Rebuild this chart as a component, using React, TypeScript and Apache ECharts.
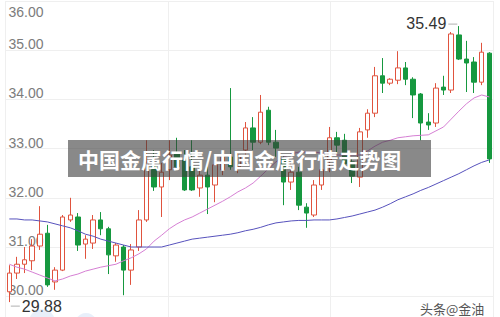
import React, { useEffect, useRef } from 'react';
import * as echarts from 'echarts';

const categories: string[] = Array.from({ length: 64 }, (_, i) => `D${i + 1}`);

const opens = [30.09,30.47,30.65,30.72,31.02,31.28,30.29,30.53,31.55,31.61,31.06,31.08,31.55,31.37,30.82,31.00,30.53,31.00,31.55,32.63,32.22,32.57,32.91,32.77,32.63,32.20,32.46,32.26,32.57,32.83,32.63,32.97,33.42,33.13,33.78,33.13,32.81,32.32,32.52,31.81,31.65,32.26,32.77,33.22,33.17,32.73,32.42,33.38,33.72,34.48,34.33,34.39,34.64,34.41,34.11,33.54,33.52,34.25,34.19,35.31,34.82,34.76,34.35,34.94];
const closes = [30.47,30.65,30.74,31.02,31.26,30.23,30.53,31.61,31.65,31.04,31.16,31.55,31.37,30.84,31.04,30.53,30.94,31.55,32.71,32.22,32.52,32.87,32.63,32.16,32.16,32.46,32.22,32.67,32.83,32.63,32.87,33.42,33.13,33.74,33.13,33.01,32.32,32.52,31.85,31.69,32.26,32.57,33.22,33.07,32.69,32.44,33.34,33.72,34.48,34.33,34.41,34.64,34.41,34.09,33.52,33.48,34.23,34.19,35.33,34.82,34.74,34.35,34.96,32.79];
const lows = [29.88,30.35,30.47,30.53,30.94,30.19,30.13,30.51,31.51,30.92,30.76,30.96,31.24,30.45,30.70,30.02,30.23,30.92,31.51,32.14,31.61,32.36,32.57,32.14,32.14,32.02,31.67,31.91,32.46,32.57,32.50,32.87,32.97,33.09,33.07,32.83,31.85,32.16,31.75,31.39,31.61,32.16,32.52,32.91,32.63,32.30,32.22,33.22,33.64,34.13,34.29,34.31,34.29,33.62,33.17,33.38,33.44,34.09,34.13,34.80,34.15,34.13,34.29,32.71];
const highs = [30.63,30.80,31.00,31.16,31.83,31.45,30.59,31.65,32.00,31.69,31.24,31.65,31.71,31.41,31.08,31.04,31.06,31.75,33.17,32.97,32.71,33.17,33.22,32.97,33.17,32.57,32.63,32.83,32.91,34.23,32.91,33.54,33.64,34.09,33.85,33.38,32.87,32.71,32.63,31.89,32.36,32.73,33.44,33.34,33.30,32.83,33.42,33.80,34.66,34.84,34.43,34.98,34.76,34.45,34.13,33.72,34.33,34.48,35.37,35.49,35.19,34.86,35.15,34.96];

const maShort = [30.65,30.59,30.55,30.49,30.43,30.37,30.31,30.35,30.41,30.45,30.51,30.55,30.59,30.62,30.65,30.72,30.78,30.86,30.96,31.12,31.24,31.37,31.47,31.55,31.61,31.69,31.77,31.85,31.93,32.02,32.12,32.20,32.30,32.44,32.59,32.73,32.83,32.89,32.93,32.93,32.93,32.91,32.89,32.87,32.87,32.87,32.87,32.95,33.05,33.13,33.17,33.22,33.24,33.26,33.27,33.28,33.36,33.44,33.60,33.76,33.91,34.03,34.09,34.05];
const maLong = [31.57,31.57,31.55,31.55,31.53,31.51,31.47,31.43,31.39,31.33,31.26,31.22,31.16,31.12,31.08,31.04,31.00,31.00,31.00,31.00,31.00,31.04,31.08,31.12,31.16,31.18,31.20,31.22,31.24,31.26,31.29,31.33,31.36,31.40,31.45,31.49,31.51,31.53,31.54,31.54,31.55,31.55,31.55,31.57,31.60,31.63,31.67,31.71,31.75,31.81,31.88,31.96,32.02,32.08,32.15,32.21,32.28,32.35,32.42,32.49,32.57,32.65,32.72,32.77];

const yTicks = [30, 31, 32, 33, 34, 35, 36];

const titleText = '中国金属行情/中国金属行情走势图';
const watermarkText = '头条@金油';

const UP = '#e0533e';
const DOWN = '#16983f';
const FONT = 'Arial, "Liberation Sans", Helvetica, sans-serif';

export default function App() {
  const ref = useRef<HTMLDivElement>(null);
  useEffect(() => {
    if (!ref.current) return;
    const chart = echarts.init(ref.current, undefined, { renderer: 'svg' });
    const kData = opens.map((o, i) => [o, closes[i], lows[i], highs[i]]);
    chart.setOption({
      animation: false,
      backgroundColor: '#ffffff',
      grid: {
        left: 5.5,
        width: 487.6,
        top: 1,
        height: 344.4,
        containLabel: false,
        outerBoundsMode: 'none',
      },
      xAxis: [
        {
          type: 'category',
          data: categories,
          boundaryGap: true,
          axisLine: { show: false },
          axisTick: { show: false },
          axisLabel: { show: false },
          splitLine: { show: false },
        },
        {
          type: 'value',
          min: 0,
          max: 3,
          interval: 1,
          position: 'top',
          axisLine: { show: false },
          axisTick: { show: false },
          axisLabel: { show: false },
          splitLine: { show: true, lineStyle: { color: '#efefef', width: 1 } },
        },
      ],
      yAxis: {
        type: 'value',
        min: 29,
        max: 36,
        interval: 1,
        axisLine: { show: false },
        axisTick: { show: false },
        splitLine: { show: true, lineStyle: { color: '#efefef', width: 1 } },
        axisLabel: {
          inside: true,
          margin: 3,
          verticalAlign: 'middle',
          fontFamily: FONT,
          fontSize: 14,
          color: '#7c7c7c',
          formatter: (v: number) => {
            if (!yTicks.includes(v)) return '';
            return v === 36 ? `{t|${v.toFixed(2)}}` : `{n|${v.toFixed(2)}}`;
          },
          rich: {
            t: { padding: [22, 0, 0, 0], fontSize: 14, color: '#7c7c7c', fontFamily: FONT },
            n: { padding: [0, 0, 12, 0], fontSize: 14, color: '#7c7c7c', fontFamily: FONT },
          },
        },
      },
      series: [
        {
          type: 'candlestick',
          xAxisIndex: 0,
          data: kData,
          barWidth: 5,
          itemStyle: {
            color: '#ffffff',
            color0: DOWN,
            borderColor: UP,
            borderColor0: DOWN,
            borderWidth: 1,
          },
          markPoint: {
            symbol: 'rect',
            symbolSize: [9, 1],
            itemStyle: { color: '#b0b0b0' },
            label: {
              show: true,
              color: '#333333',
              fontSize: 16,
              fontFamily: FONT,
              formatter: (p: any) => Number(p.value).toFixed(2),
            },
            data: [
              {
                type: 'max',
                valueDim: 'highest',
                symbolOffset: [-6, -2],
                label: { position: 'left', distance: 2, offset: [0, -1] },
              },
              {
                type: 'min',
                valueDim: 'lowest',
                symbolOffset: [6, 4],
                label: { position: 'right', distance: 2 },
              },
            ],
          },
        },
        {
          type: 'line',
          data: maShort,
          symbol: 'none',
          lineStyle: { color: '#d67fd4', width: 1 },
          z: 3,
        },
        {
          type: 'line',
          data: maLong,
          symbol: 'none',
          lineStyle: { color: '#5752bd', width: 1 },
          z: 3,
        },
      ],
      graphic: [
        {
          type: 'circle',
          shape: { cx: 42, cy: 322, r: 13 },
          style: { fill: 'rgba(190,210,240,0.35)' },
          z: 50,
        },
        {
          type: 'circle',
          shape: { cx: 86, cy: 324, r: 11 },
          style: { fill: 'rgba(190,210,240,0.35)' },
          z: 50,
        },
        {
          type: 'rect',
          shape: { x: 68, y: 140, width: 363, height: 37 },
          style: { fill: 'rgba(58,58,58,0.6)' },
          z: 100,
        },
        {
          type: 'text',
          x: 78,
          y: 158.5,
          style: {
            text: titleText,
            fill: '#ffffff',
            fontSize: 21,
            fontWeight: 'bold',
            fontFamily: '"Noto Sans CJK SC", sans-serif',
            verticalAlign: 'middle',
          },
          z: 101,
        },
        {
          type: 'text',
          x: 420,
          y: 308,
          style: {
            text: watermarkText,
            fill: '#555555',
            fontSize: 13,
            fontFamily: '"Noto Sans CJK SC", sans-serif',
            verticalAlign: 'middle',
          },
          z: 101,
        },
      ],
    });
    return () => chart.dispose();
  }, []);
  return (
    <div
      ref={ref}
      style={{ position: 'fixed', left: 0, top: 0, width: 500, height: 317, background: '#fff' }}
    />
  );
}
